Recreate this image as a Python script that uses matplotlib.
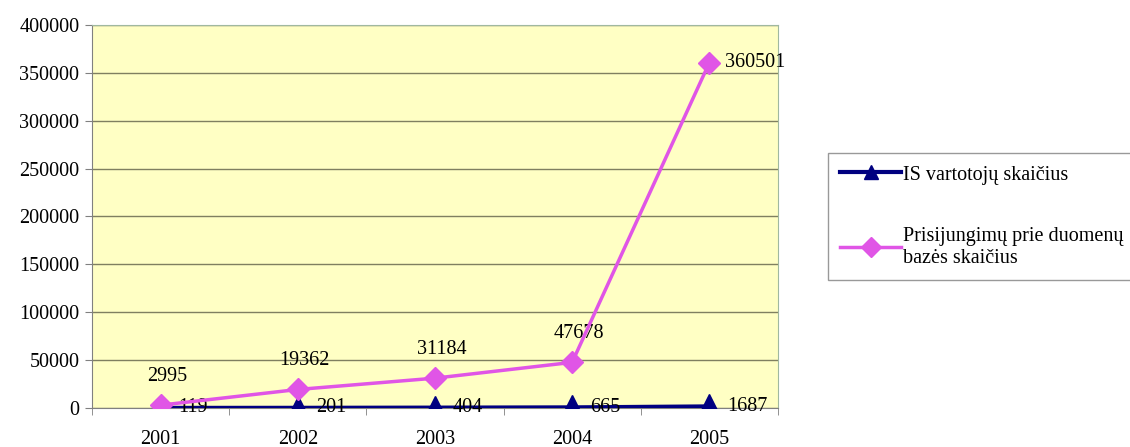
import numpy as np
import matplotlib.pyplot as plt

plt.rcParams['font.family'] = ['Liberation Serif', 'DejaVu Serif']

years = ['2001', '2002', '2003', '2004', '2005']
users = [119, 201, 404, 665, 1687]
logins = [2995, 19362, 31184, 47678, 360501]
y_ticks = [0, 50000, 100000, 150000, 200000, 250000, 300000, 350000, 400000]

fig = plt.figure(figsize=(11.3, 4.47), dpi=100)
ax = fig.add_axes([0.0814, 0.0872, 0.607, 0.857])
ax.set_facecolor('#ffffc4')

x = np.arange(len(years))
l1, = ax.plot(x, users, color='#000080', lw=3, marker='^', markersize=17,
              label='IS vartotojų skaičius', zorder=3)
l2, = ax.plot(x, logins, color='#e055e6', lw=2.5, marker='D', markersize=11,
              label='Prisijungimų prie duomenų\nbazės skaičius', zorder=4)

fs = 14.5
for i, v in enumerate(users):
    ax.annotate(str(v), (x[i], v), xytext=(13, 0), textcoords='offset points',
                ha='left', va='center', fontsize=fs)
for i, v in enumerate(logins):
    if i == len(logins) - 1:
        ax.annotate(str(v), (x[i], v), xytext=(11, 0), textcoords='offset points',
                    ha='left', va='center', fontsize=fs)
    else:
        ax.annotate(str(v), (x[i], v), xytext=(5, 14), textcoords='offset points',
                    ha='center', va='bottom', fontsize=fs)

ax.set_xlim(-0.5, len(years) - 0.5)
ax.set_ylim(0, 400000)
ax.set_yticks(y_ticks)
ax.set_yticklabels([str(t) for t in y_ticks], fontsize=fs)
ax.set_xticks(x)
ax.set_xticklabels(years, fontsize=fs)
ax.set_xticks(np.arange(-0.5, len(years)), minor=True)
ax.tick_params(axis='x', which='major', length=0, pad=16)
ax.tick_params(axis='x', which='minor', length=5, color='#808080')
ax.tick_params(axis='y', length=5, color='#808080', pad=4)
ax.grid(axis='y', color='#7f7f60', lw=1)
ax.set_axisbelow(True)
for s in ['top', 'right']:
    ax.spines[s].set_color('#a0b8a0')
for s in ['left', 'bottom']:
    ax.spines[s].set_color('#808080')

leg = fig.legend(handles=[l1, l2], loc='upper left', bbox_to_anchor=(0.733, 0.657),
                 fontsize=fs, frameon=True, fancybox=False, edgecolor='#808080',
                 handlelength=3.0, handletextpad=0.1, labelspacing=2.1,
                 borderpad=0.6, borderaxespad=0)
leg.get_frame().set_linewidth(1)
for h in leg.legend_handles:
    h.set_markersize(10)

fig.savefig('out.png', dpi=100)
